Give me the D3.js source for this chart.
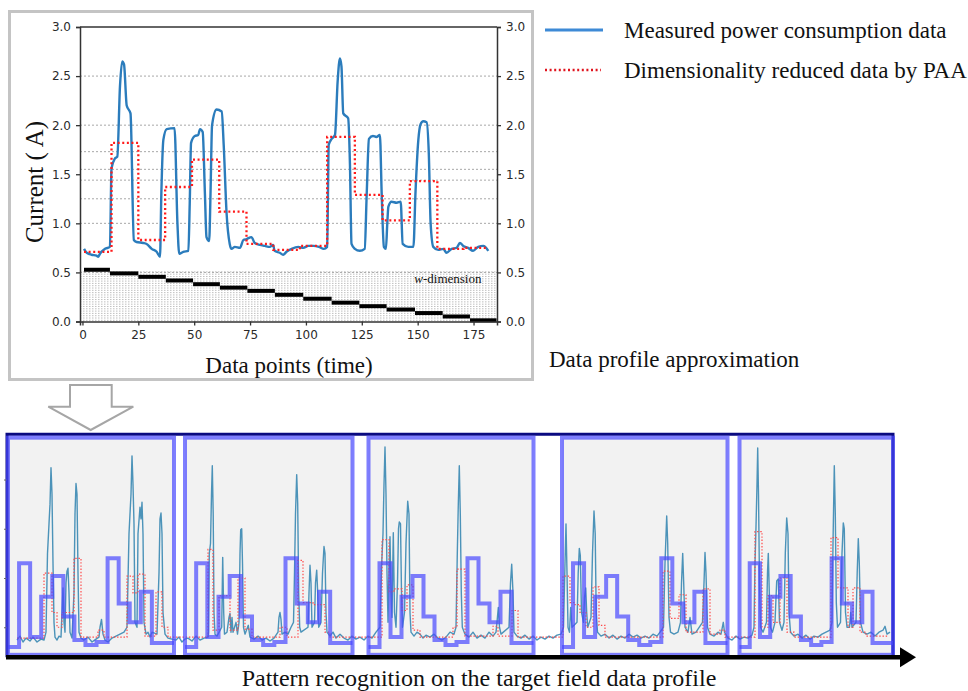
<!DOCTYPE html>
<html>
<head>
<meta charset="utf-8">
<script src="https://cdn.jsdelivr.net/npm/d3@7"></script>
<style>
  body { margin: 0; background: #fff; }
  svg { display: block; }
</style>
</head>
<body>
<svg id="fig" width="968" height="691"></svg>
<script>
// ---------- top chart data ----------
const profileX = [0.7,1.9,4.1,6.3,7.1,7.8,10.1,12.3,13.0,14.5,15.6,16.8,17.8,18.6,19.8,21.5,23.0,24.2,27.2,28.7,31.0,33.2,34.7,35.3,36.2,37.7,41.2,42.5,43.3,45.1,47.4,48.0,48.6,50.3,51.8,52.6,53.8,54.8,55.5,56.7,57.3,58.0,60.0,62.3,63.2,64.5,65.9,66.7,68.2,70.5,72.0,73.5,75.6,77.1,79.4,81.6,83.8,85.3,86.0,88.3,89.8,91.3,93.6,96.6,98.8,101.1,103.4,105.8,108.0,109.5,110.2,111.5,113.0,114.2,115.2,115.9,116.7,118.9,119.7,120.4,121.9,124.1,126.3,127.2,128.2,130.0,131.5,133.1,133.9,134.9,135.8,136.4,136.9,138.3,140.6,142.4,143.3,145.8,148.1,149.0,150.3,151.3,152.5,154.0,155.0,155.8,157.0,159.2,161.5,162.9,165.2,167.4,168.9,170.4,172.6,174.8,177.1,179.4,181.6];
const profileA = [0.74,0.70,0.68,0.67,0.66,0.69,0.74,0.76,1.56,1.66,1.68,2.40,2.65,2.62,2.20,2.12,0.83,0.81,0.80,0.79,0.74,0.71,0.66,1.30,1.85,1.96,1.97,1.00,0.69,0.71,0.72,1.20,1.82,1.89,1.90,1.96,1.93,1.30,0.86,0.82,1.30,2.00,2.16,2.14,1.80,1.10,0.79,0.74,0.76,0.75,0.83,0.84,0.86,0.80,0.78,0.77,0.76,0.78,0.72,0.70,0.68,0.71,0.74,0.76,0.75,0.77,0.77,0.76,0.74,0.76,1.80,1.86,1.90,2.45,2.68,2.60,2.12,2.07,1.60,0.79,0.74,0.72,0.74,1.30,1.86,1.89,1.88,1.90,1.30,0.76,0.74,1.00,1.17,1.22,1.21,1.22,0.79,0.76,0.76,1.30,1.85,2.01,2.04,2.03,1.70,1.00,0.76,0.73,0.74,0.70,0.74,0.75,0.80,0.77,0.75,0.72,0.76,0.77,0.72];

const paaEdges  = [0.7,13,25,37,49,61.2,73.4,85.4,97.3,109.5,121.9,134.3,146.5,158.8,170.5,181.6];
const paaValues = [0.71,1.82,0.83,1.37,1.65,1.12,0.79,0.73,0.77,1.88,1.29,1.03,1.43,0.74,0.75];

const wEdges  = [0.7,12.3,25,37.3,49.5,61.5,73.8,86.1,98.8,111.5,123.9,136.1,148.8,161.2,173.4,185.3];
const wLevels = [0.527,0.49,0.455,0.418,0.38,0.345,0.312,0.272,0.232,0.192,0.156,0.122,0.086,0.051,0.012];

const gridLevels = [2.5,2.0,1.73,1.55,1.44,1.25,1.0,0.5];
const yTicks = [0,0.5,1.0,1.5,2.0,2.5,3.0];
const xTicks = [0,25,50,75,100,125,150,175];

// ---------- bottom panel data ----------
const fieldProfile = [
[9,0.72],[12,0.76],[15,0.70],[18,0.74],[22,0.71],[25,0.75],[29,0.70],[33,0.73],[36,0.72],
[38,0.80],[39.5,1.6],[41,1.9],[42,2.1],[43,2.47],[44,2.2],[45,1.5],[46,0.9],[47,0.75],[49,0.72],[51,0.76],
[53,0.75],[54,1.0],[55,1.25],[56,0.9],[57,0.8],[58,1.3],[59,1.42],[60,1.45],[61,1.2],[62,0.8],[64,0.74],
[66,1.2],[67,2.0],[68,2.31],[69,2.2],[70,1.4],[71,0.8],[73,0.74],[76,0.72],[80,0.75],[84,0.70],[88,0.73],[91,0.75],
[92,0.85],[93.5,0.93],[95,0.78],[97,0.72],[100,0.70],[104,0.74],[108,0.76],[112,0.78],[116,0.80],
[119,0.85],[121,1.8],[123,2.2],[124,2.59],[125,2.3],[126,1.9],[127,0.9],[129,0.85],[130,1.8],[132,2.07],[133,1.95],[134,2.12],[135,1.8],[136,0.9],[138,0.78],[140,0.8],[142,0.75],[144,0.8],[149,0.78],[151,1.4],[152,1.95],[153,2.01],[154,1.8],[155,1.0],[157,0.78],[160,0.74],[164,0.73],
[168,0.72],[171,0.75],[174,0.70],[177,0.73],
[180,0.74],[184,0.71],[188,0.76],[192,0.72],[196,0.74],[200,0.75],
[200.5,0.8],[201.3,1.6],[202.5,1.7],[203.5,2.2],[204.3,2.49],[205.2,2.0],[206,1.0],[207,0.78],[209,0.76],
[213.7,0.85],[214.7,1.56],[215.7,1.0],[216.5,0.78],
[219,0.8],[221,0.95],[222,0.99],[223,0.8],[224,0.95],[225,0.8],[228,0.9],[229.5,0.78],
[231,0.9],[232,1.6],[232.7,1.84],[233.7,1.85],[234.5,1.5],[235.5,0.85],[237,0.78],[240.3,0.87],[242,0.75],[246,0.73],[250,0.76],[254,0.72],[258,0.74],[262,0.71],[266,0.74],
[270,0.8],[271,0.95],[272,1.0],[273,0.93],[274,0.78],[277,0.8],[280,0.78],[283,0.85],
[285.5,0.9],[286.5,1.4],[287.5,2.0],[288.7,2.4],[289.7,2.1],[290.7,1.2],[291.7,0.85],[293,0.8],
[300,0.85],[301,1.2],[302,1.48],[303,1.3],[304,0.85],
[306.5,0.9],[307.5,1.3],[308.7,1.43],[309.7,1.2],[310.7,0.85],
[313,0.9],[314.5,1.4],[316,1.67],[317,1.6],[318,1.0],[319,0.8],
[322,0.76],[325,0.8],[328,0.74],[332,0.78],[336,0.74],[340,0.72],[344,0.76],
[348,0.73],[352,0.75],[356,0.72],[360,0.76],[364,0.74],[368,0.8],
[372,0.85],[373.7,1.5],[375,1.8],[376,2.3],[377,2.68],[378,2.2],[379,1.4],[380,0.9],
[381,1.4],[382,1.77],[383,1.2],[384,0.95],[385.3,1.81],[386.5,1.0],[388,0.85],
[389.5,1.3],[390.5,1.85],[391.3,1.92],[392.5,1.9],[393.5,1.2],[394.5,0.85],
[396.5,1.0],[398,1.7],[399.7,2.13],[401,2.0],[402,1.0],[403,0.8],
[406,0.76],[409,0.8],[412,0.78],[415,0.74],[418,0.77],[422,0.75],[426,0.78],[430,0.74],[434,0.72],[438,0.75],[442,0.8],[446,0.78],
[448,0.85],[449.3,1.6],[450.3,2.1],[451.3,2.49],[452.3,2.0],[453.3,1.2],[454.3,0.85],
[457,0.78],[461,0.75],[465,0.8],[469,0.74],[473,0.77],[477,0.74],[481,0.8],[485,0.76],[488,0.8],
[489,0.9],[490.3,1.05],[491.5,0.85],[493,0.78],
[501,0.85],[502.5,1.3],[503.7,1.49],[505,1.2],[506,0.8],
[509,0.76],[513,0.74],[517,0.77],[521,0.73],[525,0.76],
[529,0.72],[533,0.75],[537,0.73],[541,0.76],[545,0.74],[549,0.77],[553,0.78],
[555.5,0.85],[557,1.5],[558,1.9],[559,1.4],[560,0.85],[561.5,0.8],[562.7,1.05],[564,0.85],
[569,0.9],[570.2,1.4],[571.3,1.65],[572.3,1.58],[573.5,1.0],
[575.5,0.9],[576.5,1.15],[577.7,1.25],[578.7,1.0],[579.7,0.85],
[583,0.95],[584.5,1.6],[586,2.03],[587.2,1.8],[588.2,1.0],[589.5,0.8],
[593,0.76],[597,0.78],[601,0.74],[605,0.77],[609,0.73],[613,0.76],[617,0.74],[621,0.78],[625,0.75],[629,0.77],[633,0.74],[637,0.76],[641,0.74],[645,0.78],[649,0.76],[652,0.8],
[655.5,0.85],[657,1.5],[658.7,1.98],[659.7,1.7],[661,0.95],[662.5,0.8],[666,0.78],[670,0.8],
[672.5,0.9],[673.5,1.3],[674.7,1.6],[675.7,1.3],[677,0.85],[680,0.8],[682,0.95],[684,0.78],[688,0.8],
[694.5,0.9],[696,1.3],[697,1.61],[698,1.4],[699.5,0.85],[702,0.78],[706,0.76],[710,0.8],[713,0.78],[715.3,0.9],[716.5,0.8],
[720,0.74],[724,0.72],[728,0.76],[732,0.73],
[736,0.75],[740,0.74],[744,0.77],
[746,0.85],[747,1.5],[748,1.87],[749,2.3],[749.7,2.67],[750.5,2.2],[751.5,1.3],[752.5,0.85],[755,0.8],
[758.5,0.9],[759.5,1.4],[760.3,1.6],[761.3,1.2],[762.3,0.85],[764.5,0.8],
[767,0.9],[768.7,1.32],[770.3,1.34],[771.5,0.9],[774,0.82],
[776,0.9],[777.3,1.6],[778.7,1.96],[780,1.8],[781,1.0],[782.5,0.8],
[786,0.76],[790,0.78],[794,0.74],[798,0.77],[802,0.73],[806,0.76],[810,0.75],[814,0.78],[818,0.8],[822,0.82],
[824,0.9],[825,1.7],[826.3,2.49],[827.3,2.0],[828.3,1.1],[829.5,0.85],
[832.5,0.9],[834,1.6],[835.3,1.91],[836.3,1.85],[837.5,1.0],[839,0.85],
[841.5,0.85],[842.7,1.0],[844,0.85],
[848,0.9],[849.2,1.4],[850.3,1.75],[851.3,1.5],[852.5,0.9],
[855,0.8],[859,0.78],[863,0.8],[867,0.76],[871,0.8],[875,0.82],[877,0.86],[879,0.78],[882,0.8]
];

// field PAA steps: [start sample, value]
const fieldPaa = [
[9,0.74],[36,1.40],[44,1.0],[49,0.85],[54,1.0],[66,1.55],[73,0.75],[90,0.82],[96,0.75],[119,1.37],[125,1.2],[130,1.39],[137,0.76],[148,1.21],[154,0.85],[160,0.75],
[200,1.64],[205,0.82],[211,1.17],[222,0.82],[230,1.35],[237,0.83],[244,0.75],[272,0.85],[279,0.75],[290,1.53],[295,1.1],[305,1.08],[317,0.8],[322,0.75],
[374,1.74],[381,1.21],[386,1.24],[394,1.02],[399,1.28],[405,0.82],[412,0.75],[445,0.85],[449,1.44],[457,0.76],[485,0.86],[490,0.76],[504,1.02],[510,0.75],
[555,1.37],[562,1.1],[567,1.08],[572,1.0],[578,0.85],[585,1.26],[591,0.87],[597,0.75],[655,1.42],[662,0.94],[671,1.18],[678,0.8],[695,1.24],[702,0.78],[712,0.82],[717,0.75],
[747,1.82],[754,0.85],[760,1.17],[765,0.9],[772,1.35],[779,0.8],[786,0.75],[823,1.76],[830,1.25],[840,0.85],[845,1.25],[852,0.8],[858,0.76],[880,0.76]
];

const patternPAA  = [0.65,1.5,0.75,1.16,1.37,0.96,0.72,0.67,0.70,1.55,1.09,0.90,1.21,0.69,0.69];
const windowStart = [0,177,360.5,554,731.5];
const windowEnd   = [166,344.5,525.5,719.5,885];

// ---------- setup ----------
const svg = d3.select("#fig");
const serif = "'Liberation Serif', 'Times New Roman', serif";
const sans = "'DejaVu Sans', sans-serif";

// gray frame around the top chart
svg.append("rect")
  .attr("x", 9.5).attr("y", 11.5).attr("width", 523).attr("height", 368)
  .attr("fill", "none").attr("stroke", "#c4c4c4").attr("stroke-width", 3);

const x = d3.scaleLinear().domain([-1.1, 185.5]).range([80, 497]);
const y = d3.scaleLinear().domain([0, 3]).range([321.5, 27]);

const topG = svg.append("g");

// dense w-dimension grid
topG.append("g").selectAll("line")
  .data(d3.range(0.012, 0.52, 0.0235))
  .enter().append("line")
  .attr("x1", x(-1.1)).attr("x2", x(185.5))
  .attr("y1", d => y(d)).attr("y2", d => y(d))
  .attr("stroke", "#b8b8b8").attr("stroke-width", 0.9).attr("stroke-dasharray", "1.5,1.5");

topG.append("g").selectAll("line")
  .data(gridLevels)
  .enter().append("line")
  .attr("x1", x(-1.1)).attr("x2", x(185.5))
  .attr("y1", d => y(d)).attr("y2", d => y(d))
  .attr("stroke", "#a8a8a8").attr("stroke-width", 1).attr("stroke-dasharray", "2,2");

// w-dimension staircase
topG.append("g").selectAll("line")
  .data(wLevels)
  .enter().append("line")
  .attr("x1", (d, i) => x(wEdges[i])).attr("x2", (d, i) => x(wEdges[i + 1]))
  .attr("y1", d => y(d)).attr("y2", d => y(d))
  .attr("stroke", "#000").attr("stroke-width", 4);

topG.append("text")
  .attr("x", x(148.5)).attr("y", y(0.392))
  .attr("font-family", serif).attr("font-size", 13).attr("fill", "#111")
  .html("<tspan font-style='italic'>w</tspan>-dimension");

// measured profile
const profile = profileX.map((d, i) => [d, profileA[i]]);
topG.append("path")
  .datum(profile)
  .attr("fill", "none").attr("stroke", "#2b7cbc").attr("stroke-width", 2.4)
  .attr("stroke-linejoin", "round")
  .attr("d", d3.line().x(d => x(d[0])).y(d => y(d[1])).curve(d3.curveMonotoneX));

// PAA
const paaPts = paaValues.map((v, i) => [paaEdges[i], v]);
paaPts.push([paaEdges[paaEdges.length - 1], paaValues[paaValues.length - 1]]);
topG.append("path")
  .datum(paaPts)
  .attr("fill", "none").attr("stroke", "#ff1a1a").attr("stroke-width", 2.3)
  .attr("stroke-dasharray", "2,2.6")
  .attr("d", d3.line().x(d => x(d[0])).y(d => y(d[1])).curve(d3.curveStepAfter));

// axes
const fmt = d3.format(".1f");
const styleAxis = g => {
  g.select(".domain").attr("stroke", "#333").attr("stroke-width", 1.5);
  g.selectAll(".tick line").attr("stroke", "#333").attr("stroke-width", 1.3);
  g.selectAll(".tick text").attr("font-family", sans).attr("font-size", 12).attr("fill", "#2a2a2a");
};
topG.append("g").attr("transform", `translate(${x(-1.1)},0)`)
  .call(d3.axisLeft(y).tickValues(yTicks).tickFormat(fmt).tickSize(4).tickPadding(5))
  .call(styleAxis);
topG.append("g").attr("transform", `translate(${x(185.5)},0)`)
  .call(d3.axisRight(y).tickValues(yTicks).tickFormat(fmt).tickSize(4).tickPadding(5))
  .call(styleAxis);
topG.append("g").attr("transform", `translate(0,${y(0)})`)
  .call(d3.axisBottom(x).tickValues(xTicks).tickSize(4).tickPadding(5))
  .call(styleAxis);
topG.append("line")
  .attr("x1", x(-1.1)).attr("x2", x(185.5)).attr("y1", y(3)).attr("y2", y(3))
  .attr("stroke", "#333").attr("stroke-width", 1.5);

topG.append("text")
  .attr("transform", `translate(43,182) rotate(-90)`)
  .attr("text-anchor", "middle")
  .attr("font-family", serif).attr("font-size", 25).attr("fill", "#111")
  .text("Current ( A)");
topG.append("text")
  .attr("x", 289).attr("y", 373).attr("text-anchor", "middle")
  .attr("font-family", serif).attr("font-size", 23).attr("fill", "#111")
  .text("Data points (time)");

// legend
const legend = svg.append("g");
legend.append("line").attr("x1", 545).attr("x2", 603).attr("y1", 30).attr("y2", 30)
  .attr("stroke", "#3d8ad6").attr("stroke-width", 3);
legend.append("line").attr("x1", 545).attr("x2", 601).attr("y1", 70).attr("y2", 70)
  .attr("stroke", "#e0141e").attr("stroke-width", 2.5).attr("stroke-dasharray", "2,2.6");
legend.append("text").attr("x", 624).attr("y", 37.5)
  .attr("font-family", serif).attr("font-size", 23).attr("fill", "#111")
  .text("Measured power consumption data");
legend.append("text").attr("x", 624).attr("y", 77.5)
  .attr("font-family", serif).attr("font-size", 23).attr("fill", "#111")
  .text("Dimensionality reduced data by PAA");

svg.append("text").attr("x", 549).attr("y", 367)
  .attr("font-family", serif).attr("font-size", 23).attr("fill", "#111")
  .text("Data profile approximation");

// down arrow
svg.append("path")
  .attr("d", "M70,385 L111.7,385 L111.7,406.7 L133.3,406.7 L90.7,430 L48.3,406.7 L70,406.7 Z")
  .attr("fill", "#fff").attr("stroke", "#a6a6a6").attr("stroke-width", 2);

// ---------- bottom panel ----------
const xb = d3.scaleLinear().domain([0, 885]).range([8, 893]);
const yb = d3.scaleLinear().domain([0.55, 2.8]).range([656.8, 435.2]);
const bot = svg.append("g");
const winCol = "#4848ff";

bot.append("g").selectAll("rect")
  .data(windowStart)
  .enter().append("rect")
  .attr("x", (d) => xb(d)).attr("y", yb(2.775))
  .attr("width", (d, i) => xb(windowEnd[i]) - xb(d))
  .attr("height", yb(0.57) - yb(2.775))
  .attr("fill", "#f2f2f2");

// outer navy frame
bot.append("path")
  .attr("d", `M${xb(-1)},${yb(0.545)} V${yb(2.81)} H${xb(885)} V${yb(0.545)}`)
  .attr("fill", "none").attr("stroke", "#0a0a80").attr("stroke-width", 3);

bot.append("g").attr("transform", `translate(${xb(-1)},0)`)
  .call(d3.axisLeft(yb).tickValues([0.85, 1.35, 1.85, 2.35]).tickSize(3).tickFormat(""))
  .call(g => g.select(".domain").remove())
  .call(g => g.selectAll(".tick line").attr("stroke", "#666"));

// field data
bot.append("path")
  .datum(fieldProfile)
  .attr("fill", "none").attr("stroke", "#3a88b2").attr("stroke-width", 1.4)
  .attr("stroke-opacity", 0.9).attr("stroke-linejoin", "round")
  .attr("d", d3.line().x(d => xb(d[0])).y(d => yb(d[1])));

bot.append("path")
  .datum(fieldPaa)
  .attr("fill", "none").attr("stroke", "#ff4848").attr("stroke-width", 1.2)
  .attr("stroke-dasharray", "1.4,1.8")
  .attr("d", d3.line().x(d => xb(d[0])).y(d => yb(d[1])).curve(d3.curveStepAfter));

// pattern PAA in each window + window borders
windowStart.forEach((ws, k) => {
  const we = windowEnd[k];
  const seg = (we - ws) / patternPAA.length;
  const pts = patternPAA.map((v, i) => [ws + i * seg, v]);
  pts.push([we, patternPAA[patternPAA.length - 1]]);
  bot.append("path")
    .datum(pts)
    .attr("fill", "none").attr("stroke", winCol).attr("stroke-opacity", 0.7)
    .attr("stroke-width", 4)
    .attr("d", d3.line().x(d => xb(d[0])).y(d => yb(d[1])).curve(d3.curveStepAfter));
  bot.append("rect")
    .attr("x", xb(ws)).attr("y", yb(2.775))
    .attr("width", xb(we) - xb(ws)).attr("height", yb(0.57) - yb(2.775))
    .attr("fill", "none").attr("stroke", winCol).attr("stroke-opacity", 0.7)
    .attr("stroke-width", 4);
});

// time arrow
bot.append("line")
  .attr("x1", xb(-2)).attr("x2", xb(895)).attr("y1", yb(0.545)).attr("y2", yb(0.545))
  .attr("stroke", "#000").attr("stroke-width", 4.5);
bot.append("path")
  .attr("d", `M${xb(892)},${yb(0.545) - 10} L${xb(908)},${yb(0.545)} L${xb(892)},${yb(0.545) + 10} Z`)
  .attr("fill", "#000");

svg.append("text").attr("x", 479).attr("y", 686).attr("text-anchor", "middle")
  .attr("font-family", serif).attr("font-size", 24).attr("fill", "#111")
  .text("Pattern recognition on the target field data profile");
</script>
</body>
</html>
